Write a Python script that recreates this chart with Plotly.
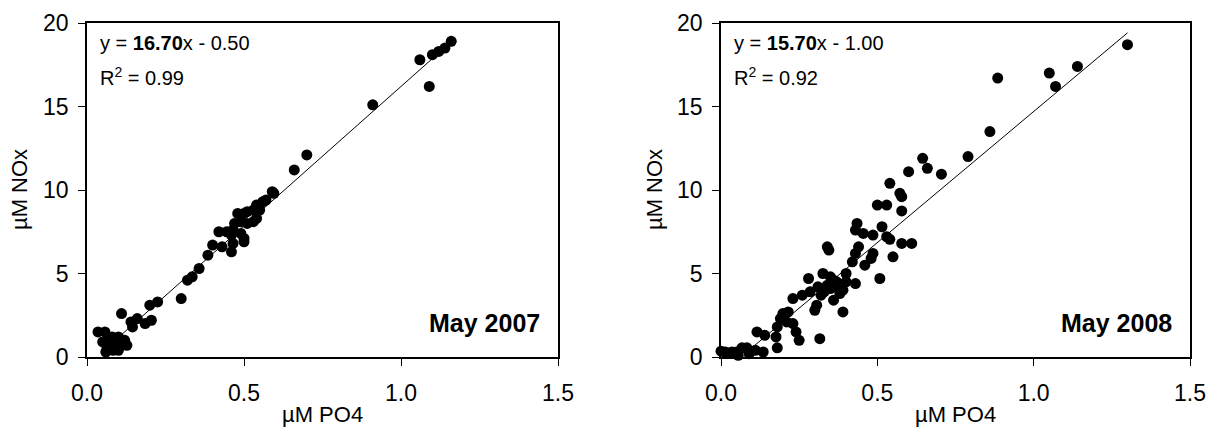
import plotly.graph_objects as go

# ---- data ----
po4_2007 = [1.16, 1.14, 1.12, 1.10, 1.06, 1.09, 0.91,
            0.70, 0.66, 0.59, 0.595, 0.56, 0.57, 0.54, 0.55, 0.53, 0.51, 0.50, 0.53, 0.51,
            0.54, 0.48, 0.47, 0.49, 0.465, 0.445, 0.42, 0.46, 0.50, 0.50, 0.49, 0.465,
            0.43, 0.40, 0.46, 0.385, 0.357, 0.335, 0.32, 0.30, 0.225, 0.20, 0.205, 0.185,
            0.16, 0.14, 0.145, 0.11, 0.035, 0.057, 0.08, 0.05, 0.064, 0.083, 0.10, 0.105,
            0.127, 0.09, 0.073, 0.06, 0.09, 0.07, 0.10, 0.12]
nox_2007 = [18.9, 18.5, 18.3, 18.1, 17.8, 16.2, 15.1,
            12.1, 11.2, 9.9, 9.8, 9.3, 9.4, 9.1, 8.8, 8.8, 8.7, 8.6, 8.1, 8.0,
            8.3, 8.6, 8.0, 8.1, 7.6, 7.5, 7.5, 7.3, 7.1, 6.9, 7.4, 6.8,
            6.6, 6.7, 6.3, 6.1, 5.3, 4.8, 4.6, 3.5, 3.3, 3.1, 2.2, 2.0,
            2.3, 2.1, 1.8, 2.6, 1.5, 1.5, 1.2, 0.9, 0.55, 0.4, 0.4, 0.9,
            0.7, 0.9, 0.7, 0.3, 0.6, 1.1, 1.2, 1.0]

po4_2008 = [1.30, 1.14, 1.05, 1.07, 0.885, 0.86, 0.79, 0.645, 0.60, 0.66, 0.705, 0.54,
            0.572, 0.578, 0.50, 0.53, 0.578, 0.435, 0.43, 0.515, 0.455, 0.486, 0.53, 0.54,
            0.578, 0.61, 0.44, 0.43, 0.34, 0.345, 0.486, 0.48, 0.55, 0.42, 0.46, 0.28,
            0.326, 0.35, 0.37, 0.508, 0.43, 0.40, 0.37, 0.34, 0.31, 0.285, 0.26, 0.23,
            0.36, 0.306, 0.30, 0.39, 0.198, 0.215, 0.19, 0.23, 0.18, 0.21, 0.24, 0.25,
            0.316, 0.176, 0.115, 0.14, 0.18, 0.135, 0.11, 0.083, 0.067, 0.05, 0.035,
            0.013, 0.0, 0.055, 0.02, 0.09, 0.33, 0.35, 0.38, 0.32, 0.39, 0.36, 0.40]
nox_2008 = [18.7, 17.4, 17.0, 16.2, 16.7, 13.5, 12.0, 11.9, 11.1, 11.3, 10.95, 10.4,
            9.8, 9.6, 9.1, 9.1, 8.75, 8.0, 7.6, 7.8, 7.4, 7.3, 7.2, 7.05,
            6.8, 6.8, 6.6, 6.2, 6.6, 6.4, 6.2, 5.9, 6.0, 5.7, 5.5, 4.7,
            5.0, 4.8, 4.5, 4.7, 4.4, 4.5, 4.2, 4.3, 4.2, 3.9, 3.7, 3.5,
            3.4, 3.1, 2.8, 2.7, 2.6, 2.7, 2.3, 2.0, 1.8, 2.1, 1.5, 1.0,
            1.1, 1.2, 1.5, 1.3, 0.55, 0.3, 0.4, 0.55, 0.55, 0.3, 0.3,
            0.3, 0.35, 0.1, 0.25, 0.2, 3.9, 4.1, 3.8, 3.7, 4.0, 4.6, 5.0]

fit_2007 = (16.70, -0.50)
fit_2008 = (15.70, -1.00)
fit_x_2007 = [0.05, 1.17]
fit_x_2008 = [0.08, 1.30]

x_ticks = [0.0, 0.5, 1.0, 1.5]
y_ticks = [0, 5, 10, 15, 20]

FONT = "Arial, Liberation Sans, sans-serif"

fig = go.Figure()

panels = [
    (po4_2007, nox_2007, fit_2007, fit_x_2007, "x", "y", "May 2007", "0.99"),
    (po4_2008, nox_2008, fit_2008, fit_x_2008, "x2", "y2", "May 2008", "0.92"),
]

for px, py, (m, b), fx, xa, ya, label, r2 in panels:
    fig.add_trace(go.Scatter(x=px, y=py, mode="markers", xaxis=xa, yaxis=ya,
                             marker=dict(color="black", size=11, line=dict(width=0)),
                             cliponaxis=False, showlegend=False))
    fig.add_trace(go.Scatter(x=fx, y=[m * v + b for v in fx], mode="lines",
                             xaxis=xa, yaxis=ya, line=dict(color="black", width=1),
                             showlegend=False))
    xd = "x domain" if xa == "x" else "x2 domain"
    yd = "y domain" if ya == "y" else "y2 domain"
    sign = "-" if b < 0 else "+"
    fig.add_annotation(xref=xd, yref=yd, x=0.023, y=0.94, xanchor="left", yanchor="middle",
                       text=f"y = <b>{m:.2f}</b>x {sign} {abs(b):.2f}", showarrow=False,
                       font=dict(family=FONT, size=20, color="black"))
    fig.add_annotation(xref=xd, yref=yd, x=0.023, y=0.841, xanchor="left", yanchor="middle",
                       text=f"R<sup>2</sup> = {r2}", showarrow=False,
                       font=dict(family=FONT, size=20, color="black"))
    fig.add_annotation(xref=xd, yref=yd, x=0.966, y=0.102, xanchor="right", yanchor="middle",
                       text=f"<b>{label}</b>", showarrow=False,
                       font=dict(family=FONT, size=25, color="black"))
    fig.add_annotation(xref=xd, yref="paper", x=0.5, y=(432 - 414) / 432, xanchor="center",
                       yanchor="middle", text="µM PO4", showarrow=False,
                       font=dict(family=FONT, size=22, color="black"))

fig.add_annotation(xref="paper", yref="y domain", x=20 / 1219, y=0.5, textangle=-90,
                   xanchor="center", yanchor="middle", text="µM NOx", showarrow=False,
                   font=dict(family=FONT, size=22, color="black"))
fig.add_annotation(xref="paper", yref="y2 domain", x=655 / 1219, y=0.5, textangle=-90,
                   xanchor="center", yanchor="middle", text="µM NOx", showarrow=False,
                   font=dict(family=FONT, size=22, color="black"))

ydom = [(432 - 357) / 432, (432 - 23) / 432]
axis_common = dict(showgrid=False, zeroline=False, showline=True, linecolor="black",
                   linewidth=1.5, mirror=True, ticks="outside", ticklen=7, tickwidth=1,
                   tickcolor="black", automargin=False,
                   tickfont=dict(family=FONT, size=23, color="black"))

fig.update_layout(
    width=1219, height=432, margin=dict(l=0, r=0, t=0, b=0, autoexpand=False),
    paper_bgcolor="white", plot_bgcolor="white",
    xaxis=dict(domain=[87 / 1219, 558 / 1219], range=[0, 1.5], tickvals=x_ticks,
               tickformat=".1f", anchor="y", ticklabelstandoff=8, **axis_common),
    yaxis=dict(domain=ydom, range=[0, 20], tickvals=y_ticks, anchor="x",
               ticklabelstandoff=5, **axis_common),
    xaxis2=dict(domain=[721 / 1219, 1190 / 1219], range=[0, 1.5], tickvals=x_ticks,
                tickformat=".1f", anchor="y2", ticklabelstandoff=8, **axis_common),
    yaxis2=dict(domain=ydom, range=[0, 20], tickvals=y_ticks, anchor="x2",
                ticklabelstandoff=5, **axis_common),
)

fig.write_html("out.html")
